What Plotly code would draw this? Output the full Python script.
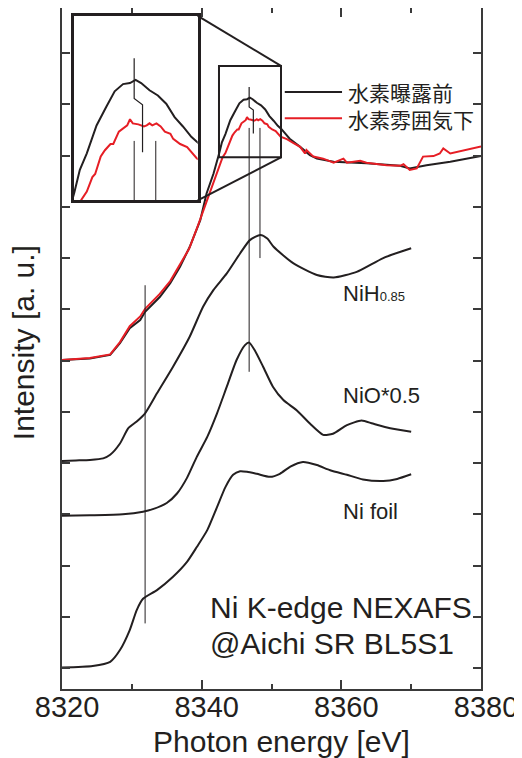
import plotly.graph_objects as go

# ---------------- data ----------------
energy_before = [8320.0, 8324.0, 8326.9, 8328.3, 8329.7, 8331.2, 8331.9, 8334.0, 8335.5, 8336.9,
                 8338.3, 8339.8, 8340.7, 8341.7, 8342.5, 8342.9, 8343.4, 8344.1, 8344.8, 8345.4,
                 8346.0, 8346.5, 8346.9, 8347.3, 8347.9, 8348.5, 8349.1, 8349.7, 8350.3, 8350.9,
                 8351.4, 8352.6, 8354.1, 8355.5, 8356.5, 8358.9, 8363.6, 8368.4, 8369.8, 8372.2,
                 8375.6, 8378.0, 8380.0]
intensity_before = [6.01, 6.04, 6.11, 6.34, 6.63, 6.79, 6.95, 7.24, 7.51, 7.83,
                    8.22, 8.74, 9.26, 9.65, 10.04, 10.26, 10.42, 10.69, 10.87, 11.02,
                    11.09, 11.10, 11.13, 11.10, 11.03, 10.98, 10.90, 10.77, 10.68, 10.58,
                    10.52, 10.33, 10.17, 10.01, 9.94, 9.88, 9.85, 9.80, 9.75, 9.81,
                    9.88, 9.94, 9.99]

energy_under = [8320.0, 8324.0, 8326.9, 8328.3, 8329.7, 8331.2, 8331.9, 8334.0, 8335.5, 8336.7,
                8338.2, 8339.4, 8341.1, 8342.2, 8343.0, 8343.4, 8343.8, 8344.0, 8344.4, 8344.7,
                8345.1, 8345.3, 8345.7, 8346.0, 8346.3, 8346.5, 8346.7, 8347.1, 8347.5, 8347.7,
                8347.9, 8348.1, 8348.4, 8348.7, 8349.0, 8349.4, 8349.6, 8350.1, 8350.6, 8351.3,
                8352.2, 8353.1, 8354.1, 8354.8, 8355.0, 8356.0, 8357.4, 8358.9, 8360.3, 8360.8,
                8362.7, 8363.6, 8366.5, 8368.4, 8368.9, 8369.8, 8370.8, 8371.7, 8373.2, 8374.1,
                8374.6, 8375.6, 8378.0, 8378.9, 8380.0]
intensity_under = [6.01, 6.05, 6.12, 6.36, 6.67, 6.86, 7.01, 7.30, 7.55, 7.83,
                   8.18, 8.61, 9.26, 9.65, 9.97, 10.05, 10.19, 10.22, 10.39, 10.45,
                   10.51, 10.51, 10.63, 10.66, 10.69, 10.75, 10.71, 10.70, 10.68, 10.69,
                   10.71, 10.69, 10.71, 10.68, 10.63, 10.61, 10.56, 10.51, 10.48, 10.37,
                   10.32, 10.25, 10.17, 10.04, 10.11, 9.98, 9.94, 9.86, 9.94, 9.86,
                   9.90, 9.86, 9.81, 9.80, 9.83, 9.72, 9.75, 9.98, 9.99, 10.04,
                   10.14, 10.04, 10.11, 10.14, 10.18]

energy_nih = [8320.0, 8322.0, 8324.0, 8325.9, 8326.9, 8328.3, 8329.5, 8330.7, 8331.9, 8333.6,
              8335.9, 8338.3, 8340.2, 8341.7, 8343.6, 8345.5, 8346.9, 8348.4, 8349.4, 8350.3,
              8353.1, 8356.5, 8358.9, 8362.2, 8366.0, 8370.0]
intensity_nih = [4.04, 4.05, 4.06, 4.09, 4.16, 4.38, 4.68, 4.81, 4.97, 5.36,
                 5.88, 6.47, 7.05, 7.38, 7.70, 8.09, 8.35, 8.45, 8.38, 8.22,
                 7.90, 7.67, 7.62, 7.73, 8.00, 8.19]

energy_nio = [8320.0, 8324.0, 8328.7, 8331.6, 8333.0, 8335.0, 8336.5, 8337.9, 8339.3, 8340.8,
              8342.2, 8343.6, 8345.0, 8346.2, 8346.8, 8347.6, 8348.8, 8350.2, 8351.7, 8353.6,
              8355.5, 8357.4, 8358.8, 8360.8, 8362.9, 8364.5, 8367.0, 8370.0]
intensity_nio = [2.97, 2.98, 3.00, 3.05, 3.10, 3.22, 3.41, 3.71, 4.12, 4.51,
                 4.97, 5.49, 6.01, 6.30, 6.35, 6.20, 5.88, 5.49, 5.23, 5.03,
                 4.77, 4.55, 4.57, 4.74, 4.83, 4.77, 4.68, 4.61]

energy_foil = [8320.0, 8324.4, 8326.9, 8328.3, 8329.7, 8330.7, 8331.6, 8333.6, 8335.9, 8337.9,
               8339.3, 8340.8, 8342.2, 8343.4, 8344.5, 8345.5, 8346.5, 8347.9, 8349.8, 8351.2,
               8352.7, 8354.5, 8356.5, 8358.4, 8360.8, 8363.1, 8366.0, 8368.0, 8370.0]
intensity_foil = [0.01, 0.04, 0.12, 0.35, 0.74, 1.13, 1.35, 1.52, 1.78, 2.07,
                  2.36, 2.69, 3.14, 3.53, 3.77, 3.84, 3.83, 3.79, 3.73, 3.79,
                  3.93, 4.02, 3.96, 3.86, 3.77, 3.68, 3.65, 3.69, 3.78]

# marker lines: (energy, intensity from, intensity to)
edge_marker = [8331.9, 0.87, 7.47]
nio_peak_marker = [8346.8, 5.78, 10.54]
nih_peak_marker = [8348.35, 8.00, 10.54]
peak_jog_energy = [8346.8, 8346.8, 8347.4, 8347.4]
peak_jog_intensity = [11.34, 10.95, 10.89, 10.43]

series_names = ["水素曝露前", "水素雰囲気下"]
sample_labels = ["NiH<span style='font-size:13px'>0.85</span>", "NiO*0.5", "Ni foil"]
note_lines = ["Ni K-edge NEXAFS", "@Aichi SR BL5S1"]
x_title = "Photon energy [eV]"
y_title = "Intensity [a. u.]"
x_tickvals = [8320, 8340, 8360, 8380]
x_ticktext = ["8320", "8340", "8360", "8380"]
y_tickvals = list(range(0, 13))

# ---------------- layout parameters ----------------
x_range = [8320, 8380]
y_range = [-0.41, 12.88]
zoom_energy = [8342.48, 8351.36]
zoom_intensity = [9.965, 11.75]
inset_dom_x = [0.0286, 0.3239]
inset_dom_y = [0.7175, 0.9885]

BLACK = '#231f20'
RED = '#e61e25'
AXC = '#3a3a3a'
FONT = 'Liberation Sans, Arial, Helvetica, sans-serif'
CJK = 'Noto Sans CJK JP, Noto Sans CJK SC, sans-serif'

fig = go.Figure()


def add_lines(xa, ya):
    curves = [
        (energy_foil, intensity_foil, BLACK, 'spline'),
        (energy_nio, intensity_nio, BLACK, 'spline'),
        (energy_nih, intensity_nih, BLACK, 'spline'),
        (energy_before, intensity_before, BLACK, 'linear'),
        (energy_under, intensity_under, RED, 'linear'),
    ]
    for ex, iy, col, shp in curves:
        fig.add_trace(go.Scatter(x=ex, y=iy, mode='lines',
                                 line=dict(color=col, width=2, shape=shp, smoothing=0.6),
                                 xaxis=xa, yaxis=ya, showlegend=False, hoverinfo='skip'))
    for m in (edge_marker, nio_peak_marker, nih_peak_marker):
        fig.add_trace(go.Scatter(x=[m[0], m[0]], y=[m[1], m[2]], mode='lines',
                                 line=dict(color=BLACK, width=1),
                                 xaxis=xa, yaxis=ya, showlegend=False, hoverinfo='skip'))
    fig.add_trace(go.Scatter(x=peak_jog_energy, y=peak_jog_intensity, mode='lines',
                             line=dict(color=BLACK, width=1.2),
                             xaxis=xa, yaxis=ya, showlegend=False, hoverinfo='skip'))


add_lines('x', 'y')
add_lines('x2', 'y2')


def px(e):
    return (e - x_range[0]) / (x_range[1] - x_range[0])


def py(v):
    return (v - y_range[0]) / (y_range[1] - y_range[0])


shapes = [
    dict(type='rect', xref='x', yref='y', x0=zoom_energy[0], x1=zoom_energy[1],
         y0=zoom_intensity[0], y1=zoom_intensity[1], line=dict(color=BLACK, width=2)),
    dict(type='line', xref='paper', yref='paper', x0=inset_dom_x[1], y0=inset_dom_y[1],
         x1=px(zoom_energy[1]), y1=py(zoom_intensity[1]), line=dict(color=BLACK, width=2)),
    dict(type='line', xref='paper', yref='paper', x0=inset_dom_x[1], y0=inset_dom_y[0],
         x1=px(zoom_energy[1]), y1=py(zoom_intensity[0]), line=dict(color=BLACK, width=2)),
    # legend swatches
    dict(type='line', xref='x', yref='y', x0=8351.9, x1=8360.1, y0=11.24, y1=11.24,
         line=dict(color=BLACK, width=2)),
    dict(type='line', xref='x', yref='y', x0=8351.9, x1=8360.1, y0=10.73, y1=10.73,
         line=dict(color=RED, width=2)),
]

annotations = [
    dict(x=8360.7, y=10.985, text="<br>".join(series_names), align='left',
         font=dict(family=CJK, size=21, color=BLACK)),
    dict(x=8360.0, y=7.30, text=sample_labels[0], font=dict(family=FONT, size=22, color=BLACK)),
    dict(x=8360.0, y=5.31, text=sample_labels[1], font=dict(family=FONT, size=22, color=BLACK)),
    dict(x=8360.0, y=3.06, text=sample_labels[2], font=dict(family=FONT, size=22, color=BLACK)),
    dict(x=8340.95, y=1.19, text=note_lines[0], font=dict(family=FONT, size=30, color=BLACK)),
    dict(x=8340.95, y=0.48, text=note_lines[1], font=dict(family=FONT, size=30, color=BLACK)),
]
for a in annotations:
    a.update(xref='x', yref='y', xanchor='left', yanchor='middle', showarrow=False)

# axis titles (placed as in the reference, slightly off-centre)
annotations += [
    dict(xref='paper', yref='paper', x=0.525, y=-0.0764, xanchor='center', yanchor='middle',
         text=x_title, showarrow=False, font=dict(family=FONT, size=30, color=BLACK)),
    dict(xref='paper', yref='paper', x=-0.0915, y=0.5088, xanchor='center', yanchor='middle',
         text=y_title, textangle=-90, showarrow=False,
         font=dict(family=FONT, size=30, color=BLACK)),
]

# the page places the figure 8 px from its top-left corner, so the figure is
# sized 8 px smaller to keep the plot area where the reference has it
fig.update_layout(
    width=514, height=750,
    margin=dict(l=54, r=41, t=0, b=69, autoexpand=False),
    paper_bgcolor='white', plot_bgcolor='white',
    font=dict(family=FONT, color=BLACK),
    shapes=shapes, annotations=annotations,
    xaxis=dict(range=x_range, tickvals=x_tickvals, ticktext=x_ticktext, automargin=False,
               ticks='inside', ticklen=9, tickwidth=1.5, tickcolor=AXC,
               minor=dict(dtick=10, tick0=8320, ticks='inside', ticklen=5,
                          tickwidth=1.5, tickcolor=AXC),
               showline=True, linecolor=AXC, linewidth=1.5, mirror='allticks',
               showgrid=False, zeroline=False, ticklabelshift=5, ticklabelstandoff=-9,
               tickfont=dict(size=29, family=FONT, color=BLACK)),
    yaxis=dict(range=y_range, tickvals=y_tickvals, showticklabels=False, automargin=False,
               ticks='inside', ticklen=8, tickwidth=1.5, tickcolor=AXC,
               showline=True, linecolor=AXC, linewidth=1.5, mirror='allticks',
               showgrid=False, zeroline=False),
    xaxis2=dict(domain=inset_dom_x, anchor='y2', range=zoom_energy, automargin=False,
                showline=True, mirror=True, linecolor=BLACK, linewidth=2.5,
                showticklabels=False, ticks='', showgrid=False, zeroline=False),
    yaxis2=dict(domain=inset_dom_y, anchor='x2', range=zoom_intensity, automargin=False,
                showline=True, mirror=True, linecolor=BLACK, linewidth=2.5,
                showticklabels=False, ticks='', showgrid=False, zeroline=False),
)

fig.write_html("out.html")
